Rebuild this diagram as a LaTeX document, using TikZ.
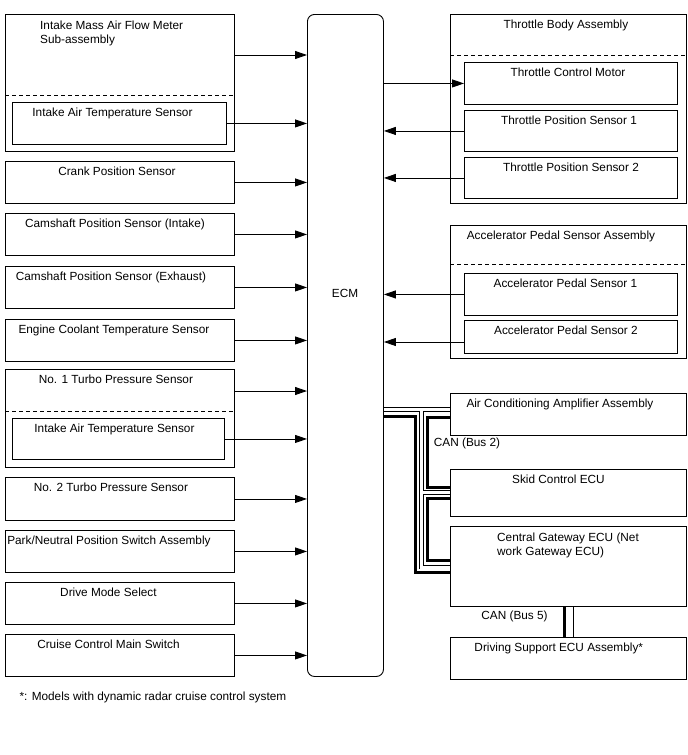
\documentclass[tikz,border=0pt]{standalone}
\usepackage{fontspec}
\setmainfont{Liberation Sans}
\usetikzlibrary{arrows.meta}
\tikzset{blk/.style={draw,line width=0.9pt,anchor=north west,inner sep=0pt,minimum width=229pt,minimum height=42pt},
  sub/.style={blk,minimum width=213pt},
  wide/.style={blk,minimum width=236pt},
  lbl/.style={anchor=north,inner sep=0pt,text height=9pt,text depth=2.5pt,yshift=-5pt},
  lbltwo/.style={anchor=north west,inner sep=0pt,align=left,yshift=-6.5pt},
  arr/.style={-{Triangle[length=12pt,width=8pt]},line width=0.9pt},
  sep/.style={line width=0.9pt,dash pattern=on 4pt off 3pt},
  canb/.style={line width=3pt},
  canw/.style={double,double distance=3pt,line width=0.9pt}}
\begin{document}
\begin{tikzpicture}[x=1pt,y=-1pt,font=\fontsize{11.8pt}{14.3pt}\selectfont]
\useasboundingbox (0,0) rectangle (688,755);
% ECM
\node[draw,line width=0.9pt,rounded corners=7pt,anchor=north west,minimum width=76pt,minimum height=662pt] (ecm) at (307,14) {};
\node (ecmtxt) at (345,293) {ECM};

% left column (inputs)
\node[blk,minimum height=137pt,label={[lbltwo,xshift=35pt]north west:Intake Mass Air Flow Meter\\Sub-assembly}] (maf) at (5,14) {};
\draw[sep] ([yshift=-81pt]maf.north west) -- ([yshift=-81pt]maf.north east);
\node[blk,minimum width=214pt,label={[lbl,xshift=-7pt]north:Intake Air Temperature Sensor}] (iat1) at (12,102) {};
\node[blk,label={[lbl,xshift=-3pt]north:Crank Position Sensor}] (crank) at (5,161) {};
\node[blk,label={[lbl,xshift=-5pt]north:Camshaft Position Sensor (Intake)}] (camin) at (5,213) {};
\node[blk,label={[lbl,xshift=-9pt]north:Camshaft Position Sensor (Exhaust)}] (camex) at (5,266) {};
\node[blk,label={[lbl,xshift=-6pt]north:Engine Coolant Temperature Sensor}] (ect) at (5,319) {};
\node[blk,minimum height=98pt,label={[lbl,xshift=-4pt]north:No. 1 Turbo Pressure Sensor}] (turbo1) at (5,369) {};
\draw[sep] ([yshift=-42pt]turbo1.north west) -- ([yshift=-42pt]turbo1.north east);
\node[blk,minimum width=212pt,minimum height=41pt,label={[lbl,xshift=-4pt]north:Intake Air Temperature Sensor}] (iat2) at (12,418) {};
\node[blk,minimum height=43pt,label={[lbl,xshift=-9pt]north:No. 2 Turbo Pressure Sensor}] (turbo2) at (5,477) {};
\node[blk,label={[lbl,xshift=-11pt]north:Park/Neutral Position Switch Assembly}] (pnp) at (5,530) {};
\node[blk,label={[lbl,xshift=-11.5pt]north:Drive Mode Select}] (dms) at (5,582) {};
\node[blk,label={[lbl,xshift=-11.5pt]north:Cruise Control Main Switch}] (ccms) at (5,634) {};

\draw[arr] ([yshift=-41pt]maf.north east) -- ([yshift=-41pt]maf.north east -| ecm.west);
\draw[arr] ([yshift=-22pt]turbo1.north east) -- ([yshift=-22pt]turbo1.north east -| ecm.west);
\foreach \n in {iat1,crank,camin,camex,ect,iat2,turbo2,pnp,dms,ccms}
  \draw[arr] (\n.east) -- (\n.east -| ecm.west);

% right column
\node[wide,minimum height=189pt,label={[lbl,xshift=-2.5pt]north:Throttle Body Assembly}] (tba) at (450,14) {};
\draw[sep] ([yshift=-41pt]tba.north west) -- ([yshift=-41pt]tba.north east);
\node[sub,label={[lbl,xshift=-3pt]north:Throttle Control Motor}] (tcm) at (464,62) {};
\node[sub,minimum height=41pt,label={[lbl,xshift=-2pt]north:Throttle Position Sensor 1}] (tps1) at (464,110) {};
\node[sub,minimum height=41pt,label={[lbl]north:Throttle Position Sensor 2}] (tps2) at (464,157) {};

\node[wide,minimum height=133pt,label={[lbl,xshift=-7.5pt]north:Accelerator Pedal Sensor Assembly}] (apsa) at (450,225) {};
\draw[sep] ([yshift=-39pt]apsa.north west) -- ([yshift=-39pt]apsa.north east);
\node[sub,label={[lbl,xshift=-5.5pt]north:Accelerator Pedal Sensor 1}] (aps1) at (464,273) {};
\node[sub,minimum height=33pt,label={[lbl,xshift=-5pt]north:Accelerator Pedal Sensor 2}] (aps2) at (464,320) {};

\draw[arr] (tcm.west -| ecm.east) -- (tcm.west);
\foreach \n in {tps1,tps2,aps1}
  \draw[arr] (\n.west) -- (\n.west -| ecm.east);
\draw[arr] ([yshift=-22pt]aps2.north west) -- ([yshift=-22pt]aps2.north west -| ecm.east);

\node[wide,label={[lbl,xshift=-8.5pt]north:Air Conditioning Amplifier Assembly}] (ac) at (450,393) {};
\node[wide,minimum height=47pt,label={[lbl,xshift=-10pt]north:Skid Control ECU}] (skid) at (450,469) {};
\node[wide,minimum height=80pt,label={[lbltwo,xshift=47pt]north west:Central Gateway ECU (Net\\work Gateway ECU)}] (cgw) at (450,526) {};
\node[wide,label={[lbl,xshift=-9.7pt]north:Driving Support ECU Assembly*}] (dsecu) at (450,637) {};

% CAN bus 2
\coordinate (busA) at (421.5,409.5);
\coordinate (busB) at (421.5,492.5);
\coordinate (busC) at (421.5,567);
\draw[canw] (ecm.east |- busA) -- (ac.west |- busA)
  (busA) -- (busC) -- (cgw.west |- busC)
  (busB) -- (skid.west |- busB);
\coordinate (thA) at (415.5,416.5);
\coordinate (thB) at (415.5,572.5);
\draw[canb] (ecm.east |- thA) -- (thA) -- (thB) -- (cgw.west |- thB);
\coordinate (thC) at (427.5,417);
\coordinate (thD) at (427.5,487);
\draw[canb] (ac.west |- thC) -- (thC) -- (thD) -- (skid.west |- thD);
\coordinate (thE) at (427.5,498);
\coordinate (thF) at (427.5,560);
\draw[canb] (skid.west |- thE) -- (thE) -- (thF) -- (cgw.west |- thF);
\node (can2) at (467,443) {CAN (Bus 2)};

% CAN bus 5
\draw[canb] ([xshift=-4pt]cgw.south) -- ([xshift=-4pt]dsecu.north);
\draw[canw] ([xshift=3.5pt]cgw.south) -- ([xshift=3.5pt]dsecu.north);
\node (can5) at (514.5,616) {CAN (Bus 5)};

\node[anchor=west] (note) at (16,697) {*: Models with dynamic radar cruise control system};
\end{tikzpicture}
\end{document}
